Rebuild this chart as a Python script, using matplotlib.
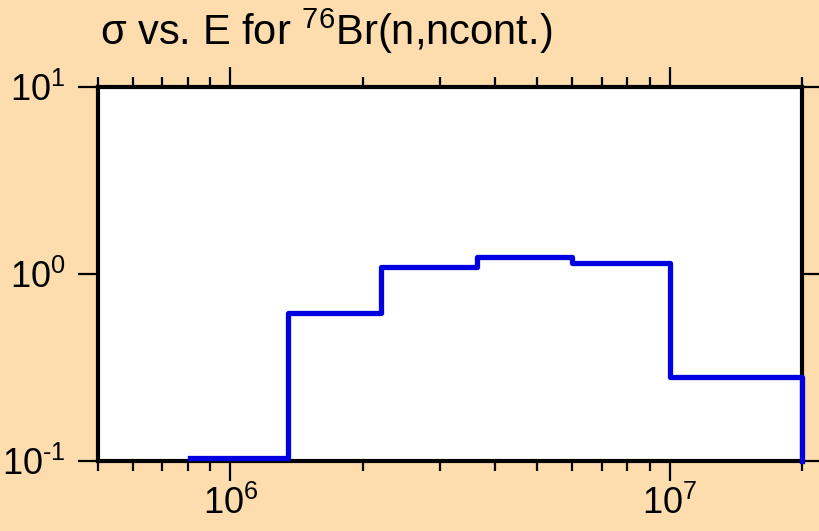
import matplotlib
matplotlib.use("Agg")
import matplotlib.pyplot as plt
from matplotlib.ticker import LogLocator, NullLocator, FuncFormatter
import numpy as np

plt.rcParams['font.family'] = ['Liberation Sans', 'DejaVu Sans']
plt.rcParams['mathtext.fontset'] = 'custom'
plt.rcParams['mathtext.rm'] = 'Liberation Sans'
plt.rcParams['mathtext.it'] = 'Liberation Sans'
plt.rcParams['mathtext.default'] = 'regular'

# Data (energy bin edges in eV, cross section in barns)
energy = [8.1e5, 1.35e6, 2.2e6, 3.65e6, 6.0e6, 1.0e7, 2.0e7]
sigma = [0.104, 0.62, 1.09, 1.23, 1.14, 0.28, 0.1]
title = r"σ vs. E for $^{76}$Br(n,ncont.)"

bg = '#FDDDAD'
fig = plt.figure(figsize=(8.2, 5.31), dpi=100, facecolor=bg)
ax = fig.add_axes([98/820, 1-461/531, (802-98)/820, (461-87)/531])
ax.set_facecolor('white')

ax.set_xscale('log')
ax.set_yscale('log')
ax.set_xlim(5e5, 2e7)
ax.set_ylim(0.1, 10)

ax.step(energy, sigma, where='post', color='#0000E0', lw=3.8, zorder=5,
        clip_on=False)


def fmt(v, pos):
    e = int(round(np.log10(v)))
    if e < 0:
        return r'$10^{\text{-%d}}$' % (-e)
    return r'$10^{%d}$' % e


ax.xaxis.set_major_locator(LogLocator(base=10))
ax.xaxis.set_minor_locator(LogLocator(base=10, subs=range(2, 10)))
ax.yaxis.set_major_locator(LogLocator(base=10))
ax.yaxis.set_minor_locator(NullLocator())
ax.xaxis.set_major_formatter(FuncFormatter(fmt))
ax.yaxis.set_major_formatter(FuncFormatter(fmt))

for s in ax.spines.values():
    s.set_linewidth(3)
    s.set_zorder(4)

ax.tick_params(axis='both', which='major', direction='out', length=14.5, width=1.6,
               labelsize=26, top=True, right=True, colors='black')
ax.tick_params(axis='both', which='minor', direction='out', length=7.5, width=1.6,
               top=True, right=True)
ax.tick_params(axis='x', which='major', pad=3)
ax.tick_params(axis='y', which='major', pad=9)

fig.text(100/820, 1-45/531, title, fontsize=30, ha='left', va='baseline')

fig.savefig('out.png', dpi=100, facecolor=bg)
